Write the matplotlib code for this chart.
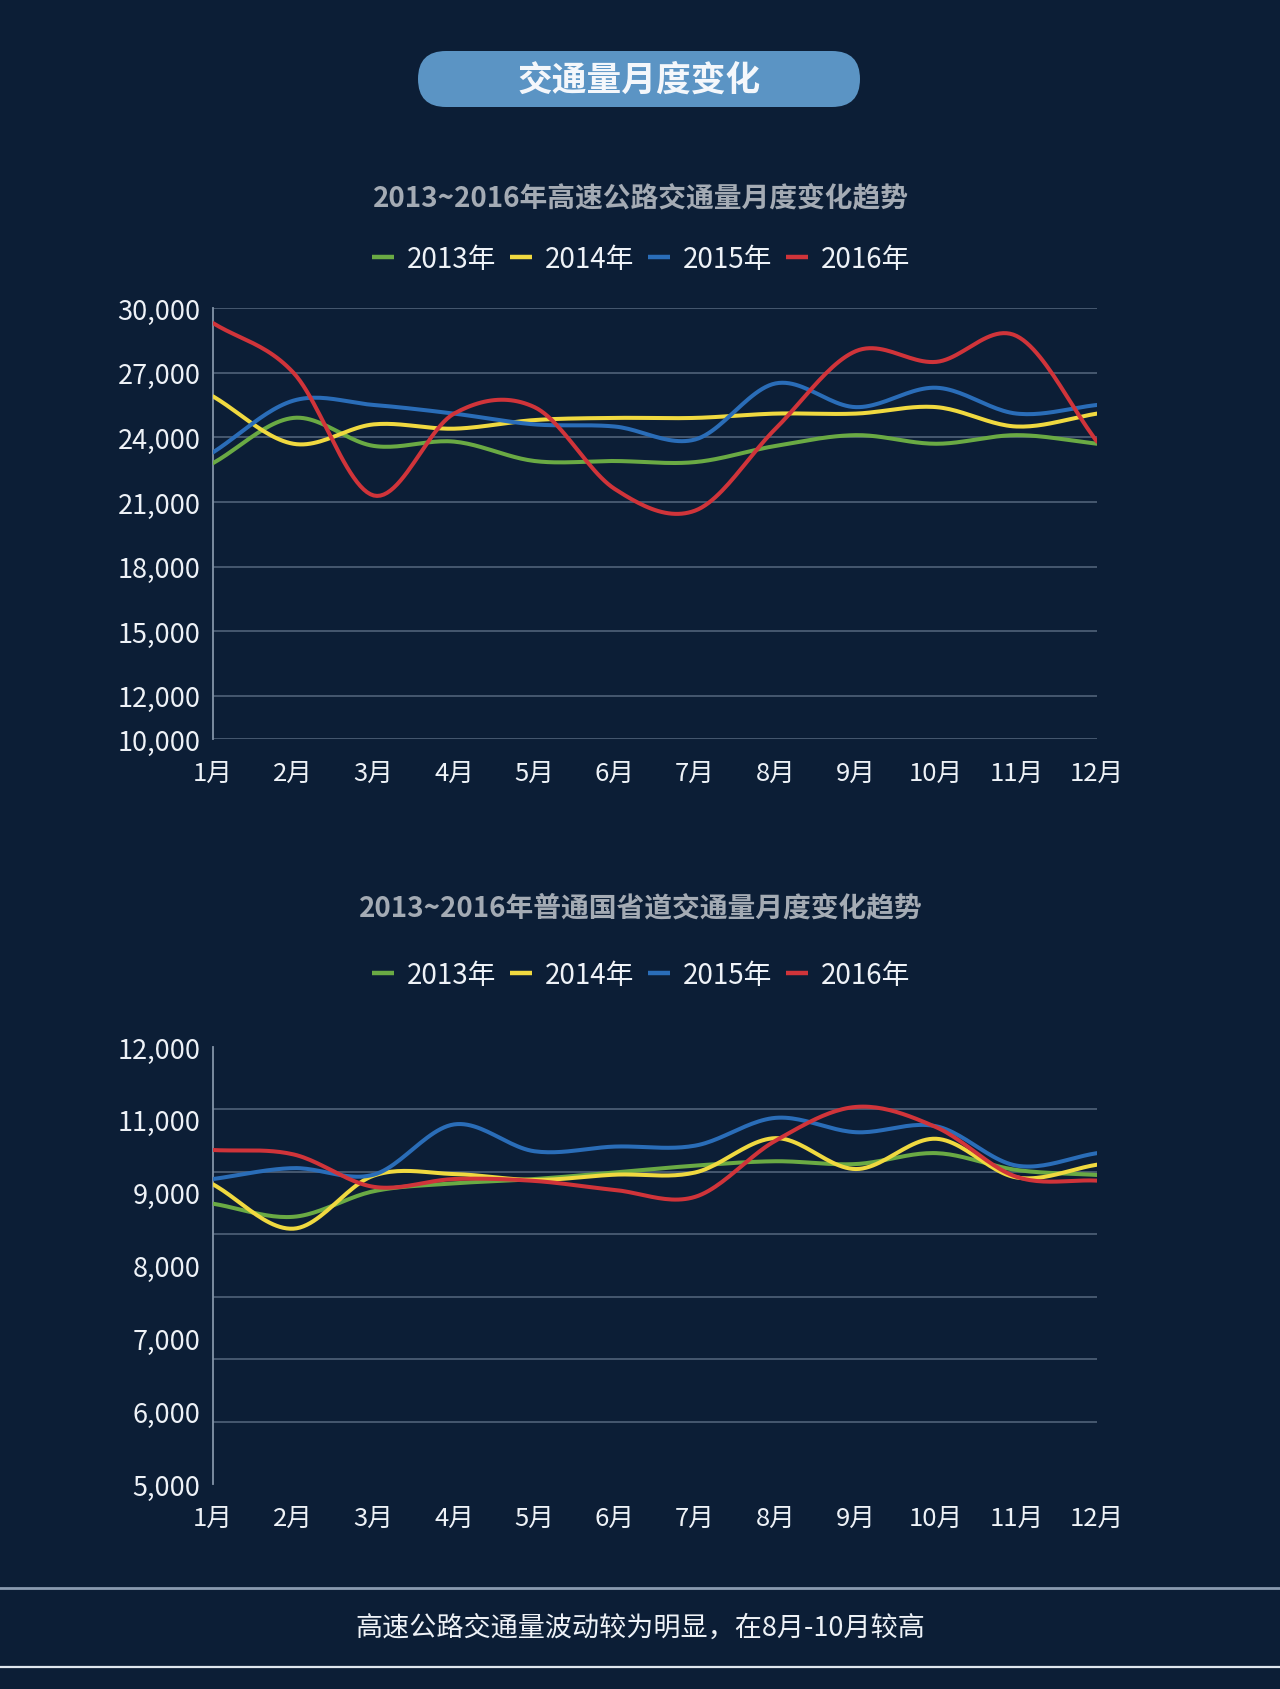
import numpy as np
import matplotlib.pyplot as plt
from matplotlib.patches import FancyBboxPatch
from matplotlib.lines import Line2D

plt.rcParams['font.family'] = ['Noto Sans CJK SC', 'DejaVu Sans']

# data
months = ['1月', '2月', '3月', '4月', '5月', '6月', '7月', '8月', '9月', '10月', '11月', '12月']
years = ['2013年', '2014年', '2015年', '2016年']

# highway traffic
hw_2013 = [22800, 24900, 23600, 23800, 22900, 22900, 22850, 23600, 24100, 23700, 24100, 23700]
hw_2014 = [25900, 23700, 24600, 24400, 24800, 24900, 24900, 25100, 25100, 25400, 24500, 25100]
hw_2015 = [23300, 25700, 25500, 25100, 24600, 24500, 23900, 26500, 25400, 26300, 25100, 25500]
hw_2016 = [29300, 27000, 21300, 25100, 25400, 21600, 20600, 24400, 28000, 27500, 28700, 23800]

# national / provincial roads
nr_2013 = [9490, 9280, 9690, 9815, 9885, 9990, 10100, 10170, 10125, 10300, 10030, 9950]
nr_2014 = [9800, 9090, 9940, 9965, 9870, 9955, 9990, 10540, 10045, 10530, 9910, 10115]
nr_2015 = [9885, 10060, 9955, 10760, 10330, 10405, 10420, 10865, 10635, 10730, 10100, 10300]
nr_2016 = [10350, 10280, 9760, 9885, 9855, 9710, 9600, 10500, 11040, 10715, 9920, 9860]

hw_ticks = [10000, 12000, 15000, 18000, 21000, 24000, 27000, 30000]
nr_grid = [5000, 6000, 7000, 8000, 9000, 10000, 11000, 12000]
nr_labels = ['12,000', '11,000', '9,000', '8,000', '7,000', '6,000', '5,000']

colors = ['#6aaa44', '#f0d940', '#2a6db8', '#d0343a']
bg = '#0c1e36'
grid_c = '#56687f'
spine_c = '#8394a8'
txt_c = '#eef2f7'
title_c = '#a4abb4'


def smooth(y, n=24):
    # Catmull-Rom style smoothing (like Excel smoothed lines)
    y = np.asarray(y, dtype=float)
    x = np.arange(len(y))
    m = np.gradient(y)
    xs, ys = [], []
    for i in range(len(y) - 1):
        t = np.linspace(0, 1, n, endpoint=False)
        h00 = 2 * t**3 - 3 * t**2 + 1
        h10 = t**3 - 2 * t**2 + t
        h01 = -2 * t**3 + 3 * t**2
        h11 = t**3 - t**2
        xs.append(x[i] + t)
        ys.append(h00 * y[i] + h10 * m[i] + h01 * y[i + 1] + h11 * m[i + 1])
    xs.append([x[-1]])
    ys.append([y[-1]])
    return np.concatenate(xs), np.concatenate(ys)


W, H = 1280, 1690
fig = plt.figure(figsize=(12.8, 16.9), dpi=100, facecolor=bg)

# overlay in pixel coordinates for decorations
deco = fig.add_axes([0, 0, 1, 1], zorder=0)
deco.set_xlim(0, W)
deco.set_ylim(H, 0)
deco.axis('off')
deco.patch.set_alpha(0)

pill = FancyBboxPatch((418, 52), 442, 56, boxstyle='round,pad=0,rounding_size=28',
                      facecolor='#5b94c4', edgecolor='none')
deco.add_patch(pill)
deco.text(639, 80, '交通量月度变化', color='#f4f7fb', fontsize=25, fontweight='bold',
          ha='center', va='center')

deco.plot([0, W], [1589, 1589], color='#8a9bb0', lw=2)
deco.plot([0, W], [1668, 1668], color='#dfe6ee', lw=1.6)
deco.text(640, 1628, '高速公路交通量波动较为明显，在8月-10月较高', color=txt_c,
          fontsize=19.5, ha='center', va='center')


def make_axes(top, bottom):
    left, right = 213, 1097
    ax = fig.add_axes([left / W, (H - bottom) / H, (right - left) / W, (bottom - top) / H], zorder=2)
    ax.set_facecolor('none')
    for s in ['top', 'right', 'bottom']:
        ax.spines[s].set_visible(False)
    ax.spines['left'].set_color(spine_c)
    ax.spines['left'].set_linewidth(1.3)
    ax.set_xlim(0, 11)
    ax.set_xticks(range(12))
    ax.set_xticklabels(months, color=txt_c, fontsize=18.5)
    ax.tick_params(axis='x', length=0, pad=15)
    ax.tick_params(axis='y', which='both', length=0, pad=9, labelcolor=txt_c, labelsize=19.5)
    return ax


def draw_lines(ax, series):
    for vals, c in zip(series, colors):
        xs, ys = smooth(vals)
        ax.plot(xs, ys, color=c, lw=2.9, solid_capstyle='round', zorder=3)


def header(title, y_title, y_leg):
    deco.text(641, y_title, title, color=title_c, fontsize=20, fontweight='bold',
              ha='center', va='center')
    handles = [Line2D([0], [0], color=c, lw=3.2, solid_capstyle='butt') for c in colors]
    leg = fig.legend(handles, years, loc='center', bbox_to_anchor=(641 / W, 1 - y_leg / H),
                     ncol=4, frameon=False, fontsize=20, handlelength=0.8,
                     handletextpad=0.45, columnspacing=0.5)
    for t in leg.get_texts():
        t.set_color(txt_c)


# chart 1: highway
header('2013~2016年高速公路交通量月度变化趋势', 199, 260)
ax1 = make_axes(309, 740)
ax1.set_ylim(10000, 30000)
ax1.set_yticks(hw_ticks)
ax1.set_yticklabels([f'{v:,}' for v in hw_ticks])
ax1.grid(axis='y', color=grid_c, lw=1.1)
ax1.grid(axis='x', visible=False)
draw_lines(ax1, [hw_2013, hw_2014, hw_2015, hw_2016])

# chart 2: national / provincial roads
header('2013~2016年普通国省道交通量月度变化趋势', 908, 976)
ax2 = make_axes(1048, 1485)
ax2.set_ylim(5000, 12000)
ax2.set_yticks(np.linspace(12000, 5000, len(nr_labels)))
ax2.set_yticklabels(nr_labels)
ax2.set_yticks(nr_grid, minor=True)
ax2.grid(axis='y', which='minor', color=grid_c, lw=1.1)
ax2.grid(axis='y', which='major', visible=False)
draw_lines(ax2, [nr_2013, nr_2014, nr_2015, nr_2016])

fig.savefig('out.png', dpi=100, facecolor=bg)
